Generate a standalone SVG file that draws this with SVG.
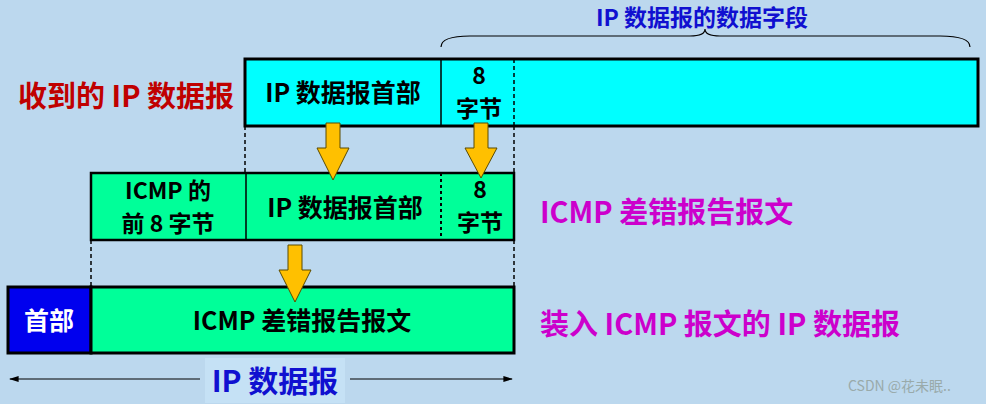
<svg xmlns="http://www.w3.org/2000/svg" width="986" height="404" viewBox="0 0 986 404">
<style>
text{font-family:"Noto Sans CJK SC","Liberation Sans",sans-serif;font-weight:bold}
.b{font-size:25px;fill:#000;text-anchor:middle}
.s{font-size:23px;fill:#000;text-anchor:middle}
.box{stroke:#000;stroke-width:3}
.dash{stroke:#000;stroke-width:1.5;stroke-dasharray:4 3;fill:none}
.arr{fill:#FFC000;stroke:#5a4a00;stroke-width:1}
.lab{font-size:29px}
</style>
<defs><marker id="ah" viewBox="0 0 10 10" refX="9" refY="5" markerWidth="8" markerHeight="8" orient="auto-start-reverse"><path d="M0,2 L10,5 L0,8z" fill="#000"/></marker></defs>
<rect width="986" height="404" fill="#BCD8EE"/>
<g id="connectors">
<path class="dash" d="M245,126V173M514,126V173M91,240V287M514,240V287"/>
<path d="M441,47 Q441,36 470,36 L690,36 Q705,36 705,29 Q705,36 720,36 L940,36 Q970,36 970,47" fill="none" stroke="#000" stroke-width="1.2"/>
<line x1="200" y1="379" x2="10" y2="379" stroke="#000" stroke-width="1.2" marker-end="url(#ah)"/>
<line x1="350" y1="379" x2="512" y2="379" stroke="#000" stroke-width="1.2" marker-end="url(#ah)"/>
</g>
<g id="received">
<text x="18" y="107" class="lab" fill="#C00000">收到的 IP 数据报</text>
<rect class="box" x="245" y="59" width="733" height="67" fill="#00FFFF"/>
<line x1="441" y1="59" x2="441" y2="126" stroke="#000" stroke-width="1.5"/>
<line x1="514" y1="59" x2="514" y2="126" class="dash"/>
<text x="343" y="102" class="b">IP 数据报首部</text>
<text x="479" y="84" class="s">8</text>
<text x="479" y="117" class="s">字节</text>
<text x="702" y="26" font-size="23" fill="#1010D0" text-anchor="middle">IP 数据报的数据字段</text>
</g>
<g id="icmp">
<rect x="91" y="173" width="423" height="67" fill="#00FF99" stroke="#000" stroke-width="2.5"/>
<line x1="246" y1="173" x2="246" y2="240" stroke="#000" stroke-width="1.5"/>
<line x1="441" y1="173" x2="441" y2="240" stroke="#000" stroke-width="2" stroke-dasharray="3 3"/>
<text x="168" y="199" class="s">ICMP 的</text>
<text x="168" y="232" class="s">前 8 字节</text>
<text x="345" y="217" class="b">IP 数据报首部</text>
<text x="480" y="198" class="s">8</text>
<text x="480" y="231" class="s">字节</text>
<text x="540" y="223" class="lab" fill="#CC00CC">ICMP 差错报告报文</text>
</g>
<g id="final">
<rect class="box" x="8" y="287" width="83" height="66" fill="#0000EE"/>
<rect class="box" x="91" y="287" width="423" height="66" fill="#00FF99"/>
<text x="49" y="330" class="b" style="fill:#fff">首部</text>
<text x="302" y="330" class="b">ICMP 差错报告报文</text>
<text x="540" y="335" class="lab" fill="#CC00CC">装入 ICMP 报文的 IP 数据报</text>
</g>
<g id="ipdg">
<rect x="205" y="358" width="140" height="45" fill="#C5E1F5"/>
<text x="275" y="392" font-size="30" fill="#1010D0" text-anchor="middle">IP 数据报</text>
</g>
<g id="arrows">
<path class="arr" d="M326,123H340V148H349L333,180L317,148H326Z"/>
<path class="arr" d="M474,123H488V148H497L481,178L465,148H474Z"/>
<path class="arr" d="M288,245H302V270H311L295,302L279,270H288Z"/>
</g>
<text x="848" y="391" font-size="14" fill="#9aa" style="font-weight:normal">CSDN @花未眠..</text>
</svg>
